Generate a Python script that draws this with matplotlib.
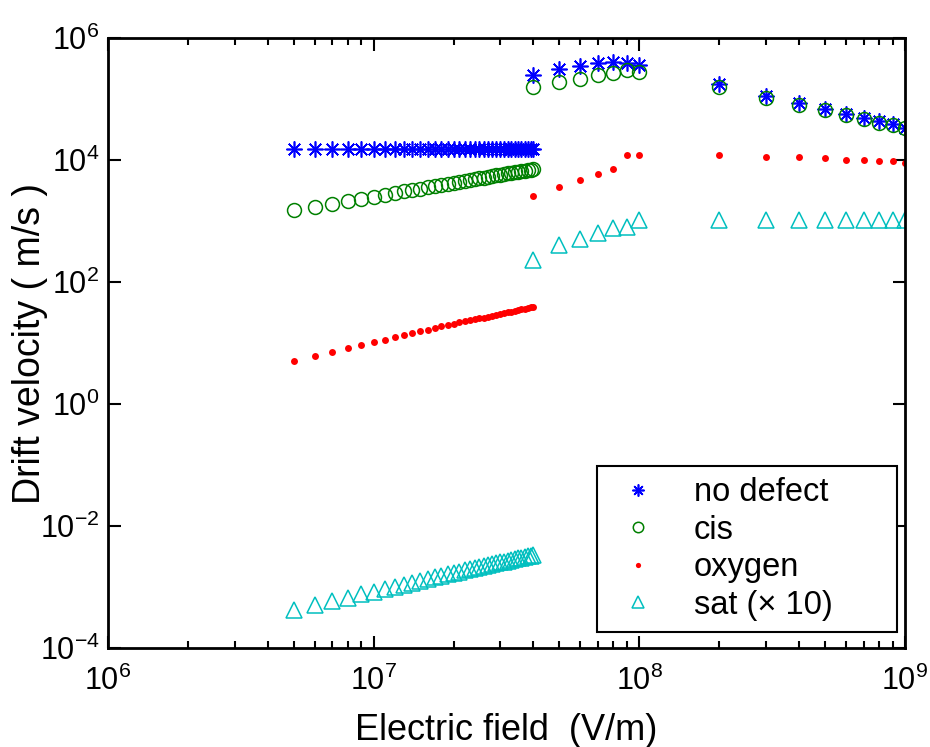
import numpy as np
import matplotlib
matplotlib.use("Agg")
import matplotlib.pyplot as plt
from matplotlib.ticker import FixedLocator, FuncFormatter, LogLocator, NullLocator

plt.rcParams['font.family'] = ['Liberation Sans', 'DejaVu Sans']
plt.rcParams['mathtext.default'] = 'regular'

# field values, low-field sweep (MV/m) and high-field sweep (V/m)
field_low_mv = [5, 6, 7, 8, 9, 10, 11, 12, 13, 14, 15, 16, 17, 18, 19, 20, 21, 22,
                23, 24, 25, 26, 27, 28, 29, 30, 31, 32, 33, 34, 35, 36, 37, 38, 39, 40]
field_high = [4e7, 5e7, 6e7, 7e7, 8e7, 9e7, 1e8,
              2e8, 3e8, 4e8, 5e8, 6e8, 7e8, 8e8, 9e8, 1e9]

# drift velocities (m/s)
nodef_low = [1.5e4, 1.5e4, 1.5e4, 1.5e4, 1.5e4, 1.5e4, 1.5e4, 1.5e4, 1.5e4,
             1.5e4, 1.5e4, 1.5e4, 1.5e4, 1.5e4, 1.5e4, 1.5e4, 1.5e4, 1.5e4,
             1.5e4, 1.5e4, 1.5e4, 1.5e4, 1.5e4, 1.5e4, 1.5e4, 1.5e4, 1.5e4,
             1.5e4, 1.5e4, 1.5e4, 1.5e4, 1.5e4, 1.5e4, 1.5e4, 1.5e4, 1.5e4]
nodef_high = [2.45e5, 3.1e5, 3.5e5, 3.85e5, 4.05e5, 3.9e5, 3.6e5,
              1.75e5, 1.13e5, 8.5e4, 6.9e4, 5.8e4, 4.9e4, 4.3e4, 3.9e4, 3.4e4]

cis_low = [1500, 1720, 1930, 2130, 2330, 2520, 2710, 2890, 3070, 3250, 3420, 3590,
           3760, 3920, 4080, 4240, 4400, 4560, 4710, 4860, 5020, 5170, 5310, 5460,
           5610, 5750, 5900, 6040, 6180, 6320, 6460, 6600, 6730, 6870, 7000, 7140]
cis_high = [1.55e5, 1.9e5, 2.1e5, 2.5e5, 2.7e5, 3.05e5, 2.8e5,
            1.6e5, 1.06e5, 8.0e4, 6.6e4, 5.5e4, 4.7e4, 4.1e4, 3.7e4, 3.3e4]

oxy_low = [5.0, 6.1, 7.1, 8.2, 9.2, 10.3, 11.3, 12.4, 13.4, 14.5, 15.5, 16.6,
           17.6, 18.7, 19.7, 20.8, 21.8, 22.6, 23.5, 24.4, 25.3, 26.2, 27.1, 28.0,
           28.9, 29.8, 30.8, 31.7, 32.7, 33.6, 34.6, 35.6, 36.6, 37.6, 38.6, 39.6]
oxy_high = [2.6e3, 3.6e3, 4.8e3, 6.0e3, 7.2e3, 1.19e4, 1.19e4,
            1.19e4, 1.13e4, 1.13e4, 1.07e4, 1.0e4, 1.0e4, 9.6e3, 9.6e3, 9.0e3]

sat_low = [4.2e-4, 5.0e-4, 5.9e-4, 6.7e-4, 7.6e-4, 8.4e-4, 9.2e-4, 1.01e-3, 1.09e-3,
           1.18e-3, 1.26e-3, 1.35e-3, 1.44e-3, 1.53e-3, 1.62e-3, 1.70e-3, 1.78e-3, 1.87e-3,
           1.95e-3, 2.04e-3, 2.12e-3, 2.20e-3, 2.28e-3, 2.36e-3, 2.45e-3, 2.53e-3, 2.61e-3,
           2.69e-3, 2.77e-3, 2.86e-3, 2.94e-3, 3.02e-3, 3.11e-3, 3.19e-3, 3.28e-3, 3.36e-3]
sat_high = [2.3e2, 4.1e2, 5.0e2, 6.4e2, 7.7e2, 8.1e2, 1.05e3,
            1.05e3, 1.05e3, 1.05e3, 1.05e3, 1.05e3, 1.05e3, 1.05e3, 1.05e3, 1.05e3]

labels = ["no defect", "cis", "oxygen", "sat (\u00d7 10)"]

field = np.concatenate([np.array(field_low_mv) * 1e6, field_high])

fig = plt.figure(figsize=(9.3, 7.47), dpi=100)
ax = fig.add_axes([0.116, 0.1325, 0.857, 0.8165])

asterisk = (8, 2, 0)
ax.plot(field, nodef_low + nodef_high, linestyle='none', marker=asterisk,
        markersize=11.5, color='#0000FF', markeredgewidth=1.2, label=labels[0])
ax.plot(field, cis_low + cis_high, linestyle='none', marker='o', markersize=10,
        markerfacecolor='none', markeredgecolor='#008000', markeredgewidth=1.1,
        label=labels[1])
ax.plot(field, oxy_low + oxy_high, linestyle='none', marker='o', markersize=5,
        color='#FF0000', markeredgecolor='none', label=labels[2])
ax.plot(field, sat_low + sat_high, linestyle='none', marker='^', markersize=11,
        markerfacecolor='none', markeredgecolor='#00BFBF', markeredgewidth=1.1,
        label=labels[3])

ax.set_xscale('log')
ax.set_yscale('log')
ax.set_xlim(1e6, 1e9)
ax.set_ylim(1e-4, 1e6)

ax.xaxis.set_major_locator(FixedLocator([1e6, 1e7, 1e8, 1e9]))
ax.xaxis.set_minor_locator(LogLocator(base=10, subs=np.arange(2, 10)))
ax.yaxis.set_major_locator(FixedLocator([1e-4, 1e-2, 1e0, 1e2, 1e4, 1e6]))
ax.yaxis.set_minor_locator(NullLocator())

fmt = FuncFormatter(lambda v, pos: r'$10^{%d}$' % int(round(np.log10(v))))
ax.xaxis.set_major_formatter(fmt)
ax.yaxis.set_major_formatter(fmt)
ax.xaxis.set_minor_formatter(plt.NullFormatter())

ax.tick_params(which='both', direction='in', top=True, right=True,
               width=1.5, labelsize=22)
ax.tick_params(which='major', length=9)
ax.tick_params(which='minor', length=5)
ax.tick_params(axis='x', pad=13)
ax.tick_params(axis='y', pad=6)
for s in ax.spines.values():
    s.set_linewidth(2)

ax.set_xlabel("Electric field  (V/m)", fontsize=26, labelpad=11)
ax.set_ylabel("Drift velocity ( m/s )", fontsize=27, labelpad=-6)

leg = ax.legend(loc='lower left', bbox_to_anchor=(0.614, 0.026, 0.376, 0.27),
                mode='expand', numpoints=1, fontsize=23.5, labelspacing=0.2,
                borderaxespad=0, fancybox=False, framealpha=1, edgecolor='black',
                handlelength=1.8, handletextpad=0.8, borderpad=0.35,
                markerscale=0.75)
leg.get_frame().set_linewidth(1.5)

fig.savefig("out.png", dpi=100)
